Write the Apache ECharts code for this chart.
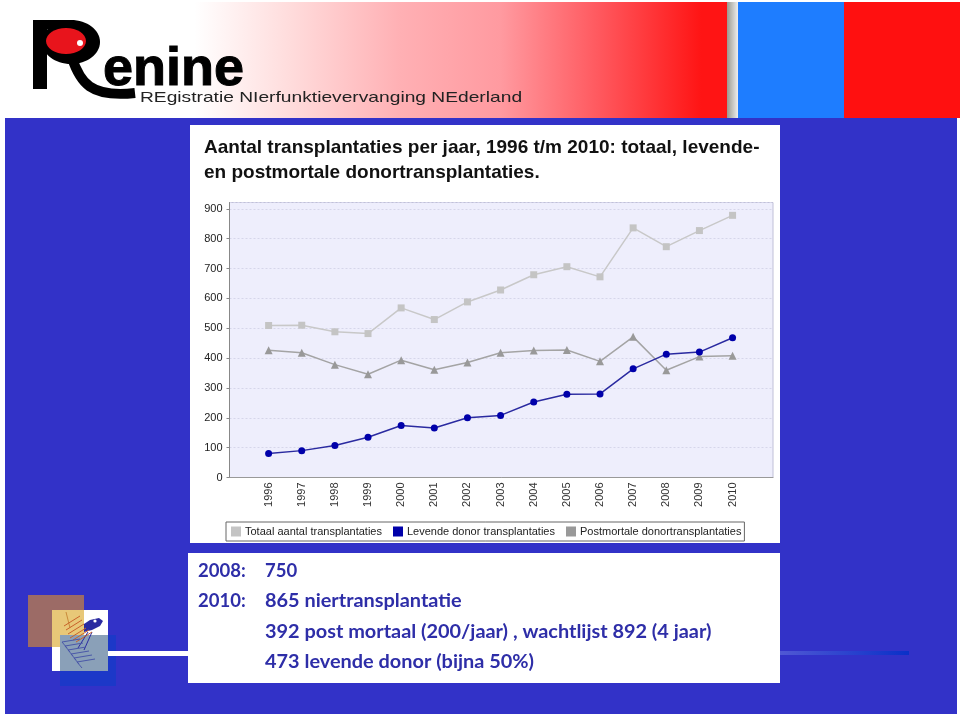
<!DOCTYPE html>
<html>
<head>
<meta charset="utf-8">
<title>Renine</title>
<script src="https://cdn.jsdelivr.net/npm/echarts@6/dist/echarts.min.js"></script>
<style>
  html, body { margin: 0; padding: 0; background: #fff; }
  #main { width: 960px; height: 716px; }
</style>
</head>
<body>
<div id="main"></div>
<script>
var years = [1996, 1997, 1998, 1999, 2000, 2001, 2002, 2003, 2004, 2005, 2006, 2007, 2008, 2009, 2010];
var totaal = [509, 510, 488, 482, 568, 529, 588, 628, 679, 706, 672, 836, 773, 827, 878];
var levende = [80, 90, 107, 135, 174, 166, 200, 208, 253, 279, 280, 364, 413, 420, 468];
var postmortaal = [426, 418, 378, 346, 393, 361, 385, 418, 425, 427, 389, 471, 359, 405, 408];
var seriesNames = ['Totaal aantal transplantaties', 'Levende donor transplantaties', 'Postmortale donortransplantaties'];
var titleText = 'Aantal transplantaties per jaar, 1996 t/m 2010: totaal, levende-\nen postmortale donortransplantaties.';

function pairs(values) {
  return values.map(function (v, i) { return [years[i], v]; });
}

// achtergrond, banner en tekstvak
var BLUE = '#3232c8';
var TEXT_BLUE = '#2e2ea8';

function rect(x, y, w, h, fill) {
  return { type: 'rect', z: -5, shape: { x: x, y: y, width: w, height: h }, style: { fill: fill } };
}
function label(x, y, text, size) {
  return { type: 'text', z: 5, x: x, y: y, style: { text: text, fill: TEXT_BLUE, font: 'bold ' + (size || 19.9) + 'px Lato', textVerticalAlign: 'middle' } };
}
function hline(points, color, w) {
  return { type: 'polyline', z: 3, shape: { points: points }, style: { stroke: color, lineWidth: w || 1, fill: null } };
}

var decor = [
  rect(5, 118, 952, 596, BLUE),
  rect(3, 2, 957, 116, {
    type: 'linear', x: 0, y: 0, x2: 1, y2: 0,
    colorStops: [{ offset: 0, color: '#ffffff' }, { offset: 0.2, color: '#ffffff' }, { offset: 0.3, color: '#ffdcdc' }, { offset: 0.415, color: '#ffb0b4' }, { offset: 0.52, color: '#ff9aa0' }, { offset: 0.62, color: '#ff5a60' }, { offset: 0.73, color: '#ff1414' }, { offset: 1, color: '#ff1414' }]
  }),
  rect(727, 2, 11, 116, { type: 'linear', x: 0, y: 0, x2: 1, y2: 0, colorStops: [{ offset: 0, color: '#9a9a90' }, { offset: 1, color: '#eeeeee' }] }),
  rect(738, 2, 106, 116, '#1e7dff'),
  rect(844, 2, 116, 116, '#ff1010'),
  rect(190, 125, 590, 418, '#ffffff'),
  rect(188, 553, 592, 130, '#ffffff'),
  // vierkanten linksonder
  rect(28, 595, 56, 52, '#9c6b66'),
  rect(52, 610, 56, 61, '#ffffff'),
  rect(52, 610, 32, 37, '#e8c878'),
  rect(60, 635, 56, 51, '#1c38c8'),
  rect(60, 635, 48, 36, '#8aa0b8'),
  rect(108, 651, 80, 5, '#ffffff'),
  rect(780, 651, 129, 4, { type: 'linear', x: 0, y: 0, x2: 1, y2: 0, colorStops: [{ offset: 0, color: '#5058d4' }, { offset: 1, color: '#0a30c8' }] }),
  // kikker
  { type: 'polygon', z: 3, shape: { points: [[84, 624], [90, 620], [99, 618], [103, 621], [100, 626], [92, 630], [84, 632]] }, style: { fill: '#2a2aa0' } },
  { type: 'circle', z: 4, shape: { cx: 95, cy: 621, r: 1.6 }, style: { fill: '#ffffff' } },
  hline([[66, 612], [70, 628]], '#c88a3a'),
  hline([[92, 632], [84, 650]], '#2a2aa0'), hline([[88, 632], [78, 648]], '#2a2aa0')
];

// arcering van de kikker
var orangeHatch = [[64, 626], [66, 630], [68, 634], [70, 638], [73, 640], [76, 642]];
orangeHatch.forEach(function (p) {
  decor.push(hline([p, [p[0] + 16, p[1] - 10]], '#c8622a'));
});
var blueHatch = [[62, 642], [65, 646], [68, 650], [71, 654], [74, 658], [77, 662]];
blueHatch.forEach(function (p) {
  decor.push(hline([p, [p[0] + 18, p[1] - 3]], '#4a58a8'));
  decor.push(hline([p, [p[0] + 5, p[1] + 6]], '#4a58a8'));
});

decor.push(
  // logo
  { type: 'rect', z: 3, shape: { x: 33, y: 20, width: 14, height: 69 }, style: { fill: '#000' } },
  { type: 'rect', z: 3, shape: { x: 33, y: 20, width: 40, height: 9 }, style: { fill: '#000' } },
  { type: 'ellipse', z: 3, shape: { cx: 71, cy: 42, rx: 29, ry: 22 }, style: { fill: '#000' } },
  { type: 'ellipse', z: 4, shape: { cx: 66, cy: 41, rx: 20, ry: 13 }, style: { fill: '#e8141c' } },
  { type: 'circle', z: 5, shape: { cx: 80, cy: 43, r: 3 }, style: { fill: '#ffffff' } },
  { type: 'bezierCurve', z: 3, shape: { x1: 72, y1: 58, cpx1: 80, cpy1: 82, cpx2: 90, cpy2: 98, x2: 135, y2: 93 }, style: { stroke: '#000', lineWidth: 10, fill: null } },
  { type: 'text', z: 4, x: 103, y: 97, style: { text: 'enine', fill: '#000', font: 'bold 54px "Liberation Sans"', textVerticalAlign: 'bottom', stroke: '#000', lineWidth: 1 } },
  { type: 'text', z: 4, x: 140, y: 98, scaleX: 1.28, originX: 0, style: { text: 'REgistratie NIerfunktievervanging NEderland', fill: '#222', font: '15px "Liberation Sans"', textVerticalAlign: 'middle' } },
  // tekstvak
  label(198, 571, '2008:', 18.5), label(265, 571, '750', 18.5),
  label(198, 601, '2010:', 18.5), label(265, 601, '865 niertransplantatie'),
  label(265, 632, '392 post mortaal (200/jaar) , wachtlijst 892 (4 jaar)'),
  label(265, 662, '473 levende donor (bijna 50%)')
);

var chart = echarts.init(document.getElementById('main'), null, { renderer: 'canvas' });

chart.setOption({
  animation: false,
  backgroundColor: '#ffffff',
  title: {
    text: titleText,
    left: 204,
    top: 135,
    padding: 0,
    textStyle: { fontFamily: 'Liberation Sans', fontWeight: 'bold', fontSize: 19, lineHeight: 25, color: '#111' }
  },
  legend: {
    left: 226,
    top: 522,
    width: 519,
    height: 19,
    padding: [4, 3, 4, 5],
    backgroundColor: '#ffffff',
    borderColor: '#666666',
    borderWidth: 1,
    borderRadius: 0,
    icon: 'rect',
    itemWidth: 10,
    itemHeight: 10,
    itemGap: 11,
    selectedMode: false,
    textStyle: { fontFamily: 'Liberation Sans', fontSize: 11, color: '#222', padding: [0, 0, 0, -1] },
    data: seriesNames
  },
  grid: {
    left: 229.5,
    top: 202.5,
    width: 543.5,
    height: 275,
    show: true,
    backgroundColor: '#eeeefc',
    borderColor: '#c0c0d8',
    borderWidth: 1
  },
  xAxis: {
    type: 'value',
    min: 1994.82,
    max: 2011.22,
    axisLine: { show: true, lineStyle: { color: '#999999' } },
    axisTick: { show: false },
    splitLine: { show: false },
    axisLabel: {
      customValues: years,
      rotate: 90,
      margin: 5,
      fontFamily: 'Liberation Sans',
      fontSize: 11,
      color: '#333',
      formatter: function (v) { return String(v); }
    }
  },
  yAxis: {
    type: 'value',
    min: 0,
    max: 921,
    interval: 100,
    axisLine: { show: true, lineStyle: { color: '#888888' } },
    axisTick: { show: true, length: 3, lineStyle: { color: '#888888' } },
    splitLine: { show: true, lineStyle: { color: '#d6d6ea', type: [2, 2], width: 1 } },
    axisLabel: { showMaxLabel: false, margin: 7, fontFamily: 'Liberation Sans', fontSize: 11, color: '#222' }
  },
  series: [
    {
      name: seriesNames[0], type: 'line', data: pairs(totaal), symbol: 'rect', symbolSize: 7,
      itemStyle: { color: '#c4c4c4' }, lineStyle: { color: '#c8c8c8', width: 1.5 }
    },
    {
      name: seriesNames[2], type: 'line', data: pairs(postmortaal), symbol: 'triangle', symbolSize: 8,
      itemStyle: { color: '#999999' }, lineStyle: { color: '#a4a4a4', width: 1.5 }
    },
    {
      name: seriesNames[1], type: 'line', data: pairs(levende), symbol: 'circle', symbolSize: 7,
      itemStyle: { color: '#0000aa' }, lineStyle: { color: '#2a2aa0', width: 1.5 }
    }
  ],
  graphic: { elements: decor }
});
</script>
</body>
</html>
